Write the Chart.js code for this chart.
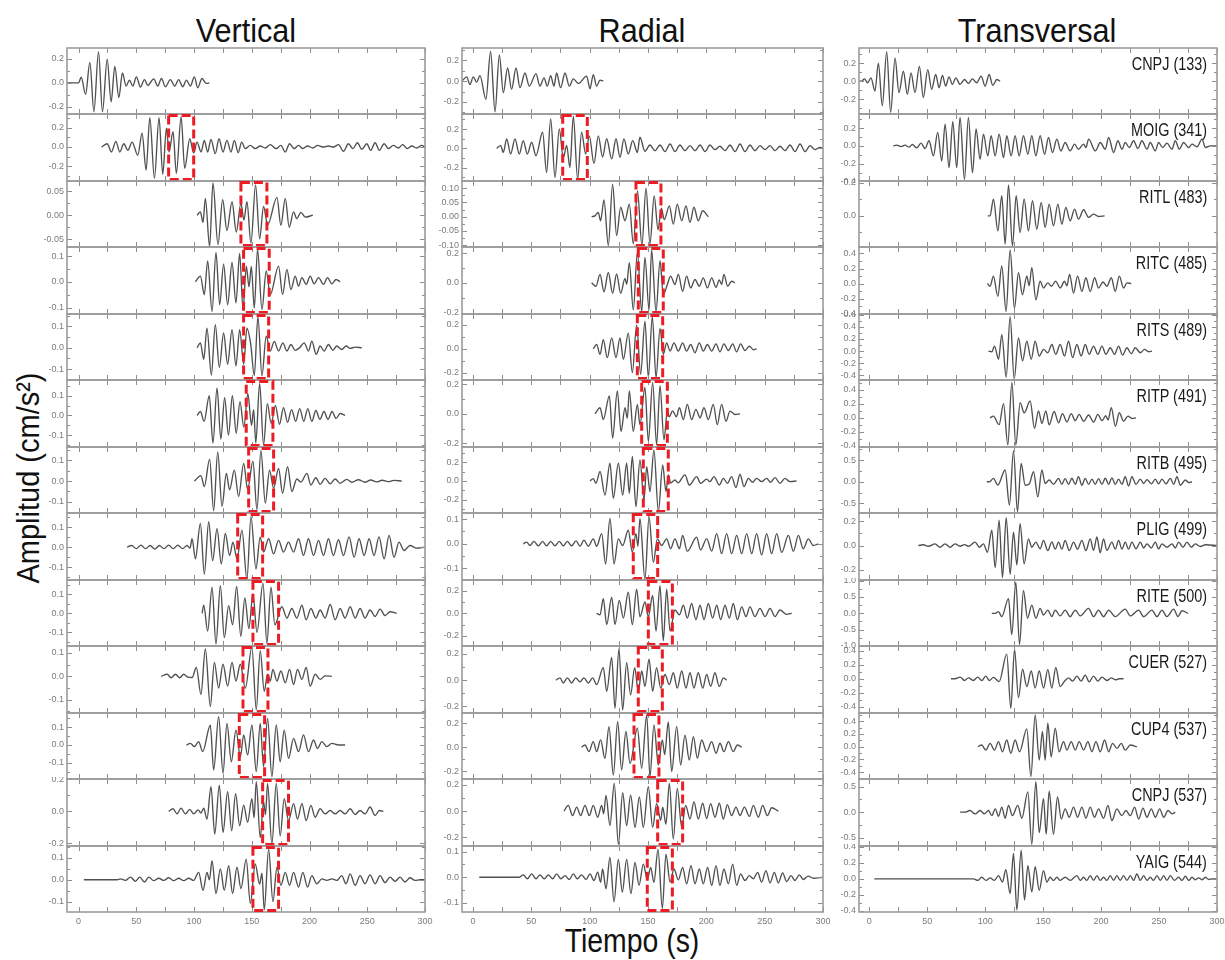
<!DOCTYPE html>
<html><head><meta charset="utf-8">
<script src="https://cdn.jsdelivr.net/npm/chart.js@4.4.1/dist/chart.umd.min.js"></script>
<style>
html,body{margin:0;padding:0;background:#fff;}
body{width:1225px;height:960px;position:relative;overflow:hidden;font-family:"Liberation Sans",Arial,sans-serif;}
.ttl{position:absolute;font-size:34px;line-height:34px;color:#111;white-space:nowrap;transform:translateX(-50%) scaleX(0.9);}
.st{position:absolute;font-size:18px;line-height:18px;color:#1a1a1a;white-space:nowrap;transform:scaleX(0.8);transform-origin:100% 50%;text-align:right;}
.xl{position:absolute;font-size:33px;line-height:33px;color:#111;white-space:nowrap;transform:translateX(-50%) scaleX(0.86);}
.yl{position:absolute;font-size:29px;line-height:29px;color:#111;white-space:nowrap;transform:translate(-50%,-50%) rotate(-90deg) scaleY(1.08);}
canvas{position:absolute;}
</style></head>
<body>
<div class="ttl" style="left:246px;top:13px;">Vertical</div>
<div class="ttl" style="left:642px;top:13px;">Radial</div>
<div class="ttl" style="left:1037px;top:13px;">Transversal</div>
<div class="xl" style="left:632px;top:924px;">Tiempo (s)</div>
<div class="yl" style="left:29px;top:478px;">Amplitud (cm/s²)</div>
<script>
// ---------- categories / labels ----------
const stations = ["CNPJ (133)","MOIG (341)","RITL (483)","RITC (485)","RITS (489)","RITP (491)","RITB (495)","PLIG (499)","RITE (500)","CUER (527)","CUP4 (537)","CNPJ (537)","YAIG (544)"];
const componentTitles = ["Vertical","Radial","Transversal"];
const timeTicks = [0,50,100,150,200,250,300];
const timeMinorTicks = [0,25,50,75,100,125,150,175,200,225,250,275,300];

// ---------- y ranges and tick steps per row ----------
const vertYMin = [-0.26,-0.35,-0.066,-0.125,-0.151,-0.16,-0.155,-0.165,-0.171,-0.157,-0.189,-0.216,-0.147];
const vertYMax = [0.29,0.34,0.071,0.135,0.158,0.18,0.165,0.171,0.174,0.13,0.178,0.203,0.154];
const vertYStep = [0.2,0.2,0.05,0.1,0.1,0.1,0.1,0.1,0.1,0.1,0.1,0.2,0.1];
const radYMin = [-0.317,-0.34,-0.106,-0.21,-0.26,-0.224,-0.34,-0.147,-0.289,-0.25,-0.262,-0.266,-0.136];
const radYMax = [0.32,0.357,0.125,0.242,0.29,0.228,0.36,0.125,0.294,0.261,0.283,0.245,0.122];
const radYStep = [0.2,0.2,0.05,0.2,0.2,0.2,0.2,0.1,0.2,0.2,0.2,0.2,0.1];
const transYMin = [-0.364,-0.395,-0.19,-0.405,-0.476,-0.416,-0.72,-0.283,-1.0,-0.485,-0.508,-0.658,-0.414];
const transYMax = [0.367,0.358,0.212,0.486,0.61,0.54,0.8,0.267,1.02,0.465,0.53,0.646,0.41];
const transYStep = [0.2,0.2,0.2,0.2,0.2,0.2,0.5,0.2,0.5,0.2,0.2,0.5,0.2];

// ---------- red window marks (start / end time, s) ----------
const vertBoxStart = [null,78.0,140.6,142.9,142.9,145.2,147.3,137.8,151.0,142.4,139.2,159.4,151.0];
const vertBoxEnd   = [null,99.7,163.1,165.1,164.6,168.3,168.9,159.4,173.2,164.0,161.1,181.8,173.2];
const radBoxStart  = [null,76.9,139.7,141.7,140.9,144.6,146.0,137.4,150.3,141.7,138.0,158.3,149.4];
const radBoxEnd    = [null,98.0,161.1,163.1,162.6,166.6,167.4,158.3,170.9,162.3,159.4,179.7,170.9];

// ---------- waveforms: [t, amplitude, t, amplitude, ...] (read extrema) ----------
const vert1 = [-10,0, 0,0, 2.3,0.047, 6.1,-0.096, 9.8,0.17, 13.3,-0.241, 17.3,0.26, 20.7,-0.241, 24.8,0.197, 28.2,-0.159, 31.4,0.137, 34.9,-0.123, 38.0,0.082, 41.2,-0.027, 44.1,0.022, 47.0,-0.027, 50.1,0.049, 53.6,-0.036, 57.1,0.027, 59.9,-0.022, 65.1,0.033, 68.6,-0.027, 71.8,0.036, 75.2,-0.033, 79.5,0.027, 83.3,-0.027, 86.7,0.027, 90.2,-0.033, 93.4,0.022, 96.8,-0.027, 100.3,0.049, 103.2,-0.041, 106.9,0.036, 110.4,-0.005, 113.3,0];
const vert2 = [19.9,0, 24.8,0.034, 28.5,-0.051, 32.3,0.058, 35.7,-0.051, 39.2,0.034, 42.7,-0.034, 46.4,0.051, 51.3,-0.085, 55.0,0.142, 58.5,-0.237, 61.7,0.302, 65.7,-0.322, 69.7,0.302, 72.9,-0.281, 76.1,0.193, 78.4,-0.051, 81.8,0.159, 84.7,-0.271, 88.8,0.312, 91.9,-0.22, 96.3,0.085, 99.7,-0.061, 102.6,0.051, 106.1,-0.051, 108.9,0.068, 111.8,-0.051, 114.7,0.078, 118.4,-0.068, 121.6,0.085, 125.1,-0.051, 128.5,0.068, 132.0,-0.051, 134.9,0.068, 138.3,-0.058, 141.2,0.051, 144.4,-0.017, 148.7,0.017, 153.0,-0.017, 157.3,0.01, 161.7,-0.01, 166.0,0.024, 171.2,-0.017, 175.2,0.017, 179.0,-0.051, 182.7,0.034, 186.7,-0.017, 190.5,0.017, 194.2,-0.017, 198.3,0.01, 202.9,-0.01, 206.9,0.017, 211.5,0, 216.4,0.01, 220.7,0, 225.1,0.024, 229.4,-0.044, 233.7,0.034, 237.5,-0.017, 241.5,0.044, 245.2,-0.024, 249.6,0.034, 253.0,-0.034, 256.8,0.044, 260.5,-0.034, 264.6,0.034, 268.3,-0.017, 272.6,0.017, 276.9,-0.01, 280.7,0.024, 284.7,-0.017, 288.5,0.01, 292.8,-0.01, 297.1,0.017, 300,0];
const vert3 = [102.6,0, 105.5,0.007, 107.8,-0.015, 109.8,0.035, 113.5,-0.065, 116.4,0.067, 120.7,-0.061, 124.8,0.032, 128.5,-0.032, 132.9,0.028, 136.6,-0.035, 140.6,0.025, 143.2,-0.01, 145.8,0.028, 149.3,-0.058, 153.3,0.063, 156.8,-0.049, 160.2,0.018, 163.7,-0.02, 171.8,0.037, 175.2,-0.021, 179.0,0.035, 182.4,-0.025, 186.2,0.007, 189.0,-0.007, 192.5,0.006, 196.3,-0.004, 202.9,0];
const vert4 = [101.2,0, 105.5,0.022, 108.9,-0.05, 111.8,0.081, 115.6,-0.115, 119.0,0.114, 122.2,-0.089, 125.6,0.068, 129.1,-0.089, 132.9,0.075, 136.3,-0.082, 139.5,0.11, 142.4,-0.108, 145.3,0.061, 147.6,-0.02, 149.6,0.06, 152.2,-0.102, 155.0,0.127, 158.8,-0.108, 162.5,0.042, 166.0,-0.05, 173.2,0.061, 176.7,-0.05, 180.4,0.048, 183.9,-0.03, 187.6,0.022, 190.5,-0.017, 193.4,0.016, 197.1,-0.01, 200.6,0.022, 204.0,-0.008, 207.8,0.016, 212.1,-0.01, 215.6,0.016, 219.3,-0.008, 223.0,0.009, 226.5,0];
const vert5 = [102.6,0, 105.5,0.023, 108.4,-0.054, 111.2,0.092, 115.0,-0.128, 118.4,0.108, 121.9,-0.092, 125.6,0.069, 129.1,-0.077, 132.9,0.085, 136.3,-0.085, 139.5,0.085, 143.0,-0.077, 145.8,0.092, 149.0,0.02, 152.2,-0.13, 155.3,0.146, 158.8,-0.131, 162.5,0.054, 166.0,-0.015, 169.5,0.03, 173.2,-0.015, 176.9,0.023, 180.4,-0.015, 183.9,0.015, 187.6,-0.012, 191.4,0.0, 195.4,0.023, 199.1,-0.015, 202.0,0.031, 205.8,-0.031, 209.2,0.008, 212.7,-0.015, 216.4,0.015, 220.2,-0.012, 223.6,0.008, 227.9,-0.008, 231.7,0.008, 235.2,-0.003, 239.5,0.003, 245.2,0];
const vert6 = [102.6,0, 105.5,0.02, 108.7,-0.03, 113.2,0.10, 116.4,-0.14, 119.9,0.14, 123.2,-0.12, 126.5,0.09, 129.8,-0.10, 133.2,0.10, 136.5,-0.09, 139.8,0.07, 143.1,-0.06, 146.6,0.11, 149.8,-0.05, 151.6,0.03, 153.5,-0.14, 156.8,0.162, 160.2,-0.149, 163.5,0.06, 166.8,-0.04, 170.5,0.05, 174.0,-0.045, 177.5,0.04, 181.0,-0.035, 184.5,0.03, 188.0,-0.03, 191.5,0.035, 195.0,-0.03, 198.5,0.035, 202.0,-0.03, 205.5,0.025, 209.0,-0.02, 212.5,0.02, 216.0,-0.02, 219.5,0.02, 223.0,-0.015, 226.5,0.01, 230.8,0];
const vert7 = [100.3,0, 106.0,0.026, 108.9,-0.027, 113.5,0.106, 117.0,-0.144, 120.5,0.141, 124.2,-0.123, 128.0,0.037, 130.8,-0.043, 134.9,0.053, 138.6,-0.075, 143.0,0.085, 146.4,-0.04, 151.0,0.096, 154.5,-0.139, 157.9,0.149, 161.7,-0.107, 165.4,0.053, 168.9,-0.035, 173.2,0.061, 176.7,-0.059, 181.0,0.069, 184.7,-0.051, 189.0,0.01, 192.5,-0.005, 197.7,0.037, 201.2,-0.019, 205.5,0.016, 209.2,-0.016, 213.5,0.013, 217.9,-0.014, 222.2,0.01, 226.5,-0.011, 232.3,0.008, 236.6,-0.006, 242.4,0.006, 248.1,-0.006, 253.0,0.005, 258.0,-0.004, 263.0,0.004, 268.0,-0.003, 273.0,0.003, 279.8,0];
const vert8 = [42.1,0, 46,0.008, 50,-0.008, 54,0.01, 58,-0.008, 62,0.008, 66,-0.01, 70,0.008, 74,-0.008, 78,0.01, 82,-0.008, 86,0.01, 90,-0.008, 94,0.008, 96.5,-0.005, 98.3,0.042, 101.2,-0.059, 105.5,0.119, 108.9,-0.136, 112.7,0.127, 116.1,-0.068, 119.9,0.093, 123.6,-0.085, 127.1,0.068, 130.8,-0.042, 133.7,0.025, 137.2,-0.059, 141.5,0.085, 145.8,-0.161, 149.3,0.153, 153.6,-0.11, 157.3,0.05, 160.2,-0.025, 164.6,0.042, 168.9,-0.034, 173.2,0.034, 177.5,-0.025, 181.8,0.025, 186.2,-0.025, 190.5,0.042, 194.8,-0.042, 199.1,0.042, 203.5,-0.042, 207.8,0.034, 212.1,-0.042, 216.4,0.042, 220.7,-0.042, 225.1,0.037, 229.4,-0.042, 234.3,0.051, 238.6,-0.051, 242.9,0.042, 247.3,-0.042, 251.6,0.042, 255.9,-0.042, 260.2,0.051, 264.6,-0.059, 268.9,0.059, 273.2,-0.051, 277.5,0.025, 281.8,-0.017, 287.0,0.008, 292.8,-0.005, 300,0];
const vert9 = [107.0,0, 108.4,0.042, 111.8,-0.093, 115.6,0.136, 119.0,-0.161, 122.8,0.144, 126.2,-0.127, 130.0,0.04, 133.4,-0.06, 136.9,0.14, 140.5,-0.12, 144.0,0.08, 147.5,-0.08, 151.0,0.10, 154.5,-0.10, 159.7,0.158, 163.1,-0.158, 166.6,0.136, 170.0,-0.06, 176.1,0.034, 180.4,-0.025, 184.7,0.025, 189.0,-0.025, 193.4,0.042, 197.1,-0.034, 201.2,0.025, 205.5,-0.025, 209.2,0.017, 213.5,-0.025, 217.9,0.046, 222.2,-0.034, 226.5,0.025, 230.8,-0.025, 235.2,0.034, 239.5,-0.025, 243.8,0.025, 248.1,-0.025, 252.4,0.017, 256.8,-0.017, 261.1,0.022, 265.4,-0.012, 269.7,0.008, 275.5,0];
const vert10 = [71.5,0, 76.7,0.009, 80.1,-0.006, 83.9,0.009, 87.6,-0.006, 91.1,0.009, 94.5,-0.003, 98.3,-0.005, 102.0,0.038, 106.0,-0.078, 109.8,0.117, 114.1,-0.129, 117.6,0.06, 121.3,-0.05, 125.1,0.052, 129.1,-0.042, 132.9,0.06, 136.3,-0.02, 140.1,0.052, 144.4,-0.05, 150.1,0.125, 153.9,-0.143, 157.3,0.11, 160.8,-0.064, 163.7,0.009, 166.0,-0.02, 168.3,0.03, 171.8,-0.02, 175.2,0.023, 179.0,-0.028, 182.7,0.03, 186.2,-0.035, 189.6,0.03, 193.4,-0.013, 197.1,0.038, 200.6,-0.042, 204.9,0.009, 209.2,-0.013, 213.5,0.002, 219.3,0];
const vert11 = [93.4,0, 96.8,0.009, 100.3,-0.009, 104.0,0.019, 107.5,-0.037, 114.1,0.11, 117.0,-0.139, 121.3,0.157, 125.1,-0.157, 128.5,0.12, 132.3,-0.093, 136.3,0.083, 140.1,-0.065, 143.0,0.056, 146.4,-0.056, 150.1,0.111, 153.9,-0.148, 157.3,0.12, 160.2,-0.12, 163.7,0.148, 167.4,-0.176, 171.2,0.111, 174.6,-0.093, 178.1,0.083, 181.8,-0.074, 186.2,0.037, 190.5,-0.037, 194.8,0.056, 199.1,-0.037, 203.5,0.028, 206.9,-0.019, 210.7,0.019, 215.0,-0.009, 219.3,0.009, 225.1,0, 230.8,0];
const vert12 = [78.1,0, 81.8,0.017, 85.3,-0.015, 88.8,0.021, 92.5,-0.015, 96.3,0.013, 99.7,-0.015, 103.5,0.01, 106.0,-0.01, 108.4,0.021, 111.2,-0.047, 114.7,0.155, 117.9,-0.142, 121.9,0.165, 125.1,-0.131, 129.1,0.123, 132.6,-0.121, 136.0,0.112, 139.5,-0.089, 143.0,0.04, 146.4,-0.068, 150.1,0.08, 152.0,-0.04, 153.9,0.186, 157.3,-0.163, 160.2,0.06, 161.9,-0.02, 163.7,0.176, 167.4,-0.205, 171.2,0.176, 174.6,-0.153, 178.1,0.08, 181.8,-0.057, 186.2,0.049, 189.6,-0.047, 193.4,0.049, 197.1,-0.057, 201.2,0.038, 204.9,-0.036, 209.2,0.017, 213.5,-0.015, 217.9,0.006, 222.2,-0.015, 226.5,0.006, 230.8,-0.015, 235.2,0.017, 239.5,-0.019, 243.8,0.006, 248.1,-0.015, 252.4,0.028, 256.8,-0.025, 260.5,0.006, 264.0,0];
const vert13 = [4.6,0, 33.4,0, 36.3,0.004, 40.6,-0.003, 45.0,0.012, 49.3,-0.007, 53.0,0.012, 57.1,-0.01, 60.8,0.012, 65.1,-0.004, 69.5,0.007, 73.8,-0.003, 78.1,0.009, 82.4,-0.004, 86.7,0.007, 91.1,-0.004, 95.4,0.007, 99.7,-0.003, 104.0,0.034, 107.8,-0.048, 111.2,0.034, 113.3,0.0, 115.6,0.087, 119.0,-0.063, 122.8,0.05, 126.2,-0.048, 130.0,0.064, 133.4,-0.063, 137.2,0.057, 140.6,-0.04, 145.2,0.094, 148.7,-0.107, 153.0,0.072, 156.8,-0.02, 158.8,0.03, 160.8,-0.137, 164.6,0.139, 168.3,-0.1, 171.8,0.057, 175.2,-0.025, 179.0,0.034, 182.7,-0.025, 186.2,0.034, 190.5,-0.033, 194.2,0.034, 198.3,-0.033, 202.0,0.019, 206.3,-0.018, 210.7,0.004, 215.0,-0.003, 219.3,0.004, 223.6,-0.003, 227.9,0.019, 231.6,-0.018, 235.2,0.027, 239.5,-0.025, 243.8,0.019, 248.1,-0.018, 252.4,0.022, 256.8,-0.018, 261.1,0.019, 265.4,-0.013, 269.7,0.012, 274.1,-0.007, 278.4,0.012, 282.7,-0.01, 287.0,0.009, 291.4,-0.003, 295.7,0, 300,0];

const rad1 = [-9.4,0, -5.4,0.041, -2.6,-0.032, 0.3,0.041, 3.1,-0.01, 6.0,0.054, 11.1,-0.175, 15.1,0.286, 18.9,-0.295, 22.6,0.254, 26.0,-0.111, 29.7,0.127, 33.1,-0.079, 36.9,0.127, 40.3,-0.063, 44.6,0.079, 48.3,-0.048, 54.0,0.073, 57.4,-0.048, 60.9,0.032, 63.7,-0.048, 66.6,0.054, 69.4,-0.048, 71.7,0.079, 75.1,-0.063, 78.9,0.079, 82.6,-0.048, 86.0,0.022, 90.3,-0.022, 97.4,0.048, 100.3,-0.073, 103.1,0.063, 106.0,-0.048, 108.9,0.01, 111.7,0];
const rad2 = [20.3,0, 23.7,0.028, 26.0,-0.042, 28.9,0.098, 32.3,-0.059, 36.0,0.098, 39.7,-0.059, 43.1,0.08, 46.6,-0.059, 50.3,0.063, 54.0,-0.077, 59.7,0.167, 63.1,-0.251, 66.6,0.307, 70.3,-0.303, 74.0,0.202, 77.4,-0.1, 80.3,0.03, 83.1,-0.2, 86.0,0.334, 89.7,-0.32, 93.1,0.167, 96.6,-0.06, 99.7,0.13, 103.7,-0.16, 107.4,0.13, 111.1,-0.09, 114.6,0.1, 118.9,-0.11, 122.6,0.1, 126.0,-0.094, 129.4,0.098, 133.1,-0.059, 136.9,0.08, 140.9,-0.042, 143.1,0.115, 147.4,-0.03, 151.7,0.035, 156.0,-0.024, 160.3,0.035, 164.6,-0.035, 168.9,0.045, 173.1,-0.035, 177.4,0.035, 181.7,-0.024, 186.0,0.028, 190.3,-0.024, 194.6,0.035, 198.9,-0.035, 203.1,0.035, 207.4,-0.014, 211.7,0.021, 216.0,-0.024, 220.3,0.035, 224.6,-0.035, 228.9,0.045, 233.1,-0.035, 237.4,0.035, 241.7,-0.024, 246.0,0.028, 250.3,-0.014, 254.6,0.028, 258.9,-0.024, 263.1,0.021, 267.4,-0.024, 271.7,0.035, 276.0,-0.035, 280.3,0.045, 284.6,-0.035, 288.9,0.028, 293.1,-0.014, 297.4,0.01, 300,0];
const rad3 = [101.7,0, 104.6,0.003, 107.4,0.015, 109.4,-0.014, 112.3,0.059, 116.0,-0.101, 119.7,0.114, 123.1,-0.066, 126.6,0.033, 130.3,-0.014, 134.0,0.044, 137.4,-0.095, 141.0,0.09, 144.8,-0.10, 148.3,0.10, 151.7,-0.095, 155.3,0.073, 158.6,-0.045, 161.4,0.03, 164.0,-0.01, 168.3,0.038, 171.7,-0.026, 175.1,0.044, 178.9,-0.014, 182.6,0.038, 186.0,-0.02, 189.4,0.033, 193.1,-0.014, 196.9,0.021, 201.7,0];
const rad4 = [101.7,0, 105.4,-0.023, 108.9,0.057, 112.3,-0.06, 116.0,0.07, 119.7,-0.07, 123.1,0.06, 126.6,-0.07, 130.3,0.03, 131.8,-0.01, 134.0,0.137, 137.4,-0.183, 140.9,0.206, 144.6,-0.195, 147.4,0.172, 150.9,-0.183, 153.1,0.222, 156.9,-0.195, 160.3,0.149, 163.1,-0.08, 166.6,-0.011, 169.4,0.046, 173.1,-0.011, 176.0,0.057, 179.7,-0.057, 183.1,0.046, 186.6,-0.034, 190.3,0.023, 194.0,-0.023, 197.4,0.034, 200.9,-0.034, 204.6,0.034, 208.3,-0.03, 211.1,0.02, 213.1,-0.01, 215.1,0.057, 218.3,-0.023, 221.7,0.011, 224.6,0];
const rad5 = [103.1,0, 106.0,0.036, 108.9,-0.047, 111.7,0.077, 115.1,-0.074, 118.9,0.091, 122.6,-0.074, 126.0,0.091, 128.9,-0.088, 133.1,0.13, 136.6,-0.198, 140.3,0.2, 143.7,-0.212, 147.4,0.231, 150.3,-0.239, 153.7,0.27, 156.9,-0.24, 160.3,0.17, 163.1,-0.047, 166.0,0.05, 168.9,-0.019, 172.3,0.05, 176.0,-0.019, 179.7,0.05, 183.1,-0.019, 186.6,0.036, 190.3,-0.033, 194.0,0.05, 197.4,-0.019, 200.9,0.036, 204.6,-0.019, 208.3,0.041, 211.7,-0.025, 215.1,0.041, 218.9,-0.014, 222.6,0.041, 226.0,-0.025, 229.4,0.041, 233.1,-0.014, 236.9,0.022, 240.3,-0.008, 243.1,0];
const rad6 = [104.6,0, 108.9,0.041, 111.7,-0.039, 116.9,0.121, 119.7,-0.164, 123.7,0.155, 126.9,-0.119, 130.3,0.041, 132.3,-0.03, 134.0,0.155, 137.4,-0.119, 140.9,0.064, 143.1,-0.073, 147.4,0.178, 150.3,-0.187, 154.0,0.212, 157.4,-0.21, 160.3,0.19, 163.7,-0.176, 166.6,0.018, 168.3,-0.02, 171.1,0.02, 174.3,-0.02, 176.9,0.041, 180.3,-0.039, 183.7,0.064, 187.4,-0.039, 191.1,0.03, 194.6,-0.027, 198.0,0.041, 201.7,-0.039, 206.0,0.064, 209.4,-0.073, 213.1,0.064, 216.9,-0.05, 220.3,0.018, 224.6,-0.005, 228.9,0];
const rad7 = [100.3,0, 103.1,0.025, 105.4,-0.025, 108.9,0.1, 113.1,-0.149, 117.4,0.188, 120.3,-0.184, 124.6,0.188, 128.3,-0.149, 131.7,0.188, 134.0,-0.131, 136.6,0.259, 139.7,-0.273, 143.1,0.223, 146.6,-0.202, 148.9,0.152, 151.7,-0.113, 155.1,0.33, 158.9,-0.326, 162.6,0.17, 165.4,-0.113, 167.4,0.064, 169.4,-0.02, 173.1,0.01, 175.7,-0.02, 181.7,0.064, 185.4,-0.043, 191.7,0.046, 195.1,-0.025, 200.3,0.02, 203.1,-0.007, 206.6,0.046, 211.1,-0.043, 214.6,0.028, 218.0,-0.025, 221.7,0.046, 225.4,-0.071, 228.9,0.071, 232.3,-0.06, 236.0,0.028, 239.7,-0.014, 243.1,0.028, 247.4,-0.007, 251.7,0.028, 255.1,-0.014, 258.9,0.035, 263.1,-0.025, 267.4,0.028, 271.7,-0.007, 277.4,0];
const rad8 = [43.1,0, 46.0,0.007, 48.9,-0.007, 52.3,0.01, 56.0,-0.008, 59.7,0.01, 63.1,-0.008, 66.6,0.01, 70.3,-0.008, 74.0,0.01, 77.4,-0.008, 80.9,0.01, 84.6,-0.008, 88.3,0.012, 91.7,-0.01, 95.1,0.015, 98.9,-0.01, 103.1,0.02, 106.0,-0.01, 110.3,0.041, 113.7,-0.082, 117.4,0.103, 120.9,-0.082, 124.6,0.02, 128.3,-0.007, 133.1,0.055, 136.6,-0.034, 139.7,0.041, 141.4,-0.01, 143.1,0.103, 147.4,-0.144, 150.9,0.11, 154.6,-0.075, 158.0,0.02, 161.7,-0.007, 166.0,0.02, 169.4,-0.02, 173.1,0.02, 176.9,-0.02, 179.7,0.034, 183.7,-0.03, 191.7,0.027, 195.1,-0.025, 200.3,0.021, 204.6,-0.03, 208.9,0.041, 213.1,-0.04, 217.4,0.041, 221.7,-0.04, 226.0,0.034, 230.3,-0.04, 234.6,0.041, 238.9,-0.04, 243.1,0.041, 247.4,-0.045, 251.7,0.041, 256.0,-0.04, 260.3,0.041, 264.6,-0.035, 270.3,0.034, 274.6,-0.03, 278.9,0.034, 283.1,-0.02, 287.4,0.02, 291.7,-0.007, 296.0,0];
const rad9 = [106.0,0, 108.9,-0.014, 111.7,0.129, 114.6,-0.1, 118.9,0.143, 121.7,-0.1, 125.4,0.114, 128.9,-0.043, 133.1,0.186, 136.6,-0.1, 140.3,0.214, 143.1,-0.03, 147.4,0.1, 150.3,-0.03, 154.0,0.157, 156.9,-0.157, 160.3,0.243, 163.1,-0.243, 166.0,0.214, 168.9,-0.157, 173.1,0.029, 176.9,-0.014, 180.3,0.071, 183.7,-0.043, 187.4,0.086, 191.1,-0.057, 194.6,0.071, 198.0,-0.057, 201.7,0.086, 205.4,-0.043, 208.9,0.071, 212.3,-0.057, 216.0,0.071, 219.7,-0.043, 223.1,0.086, 226.6,-0.057, 230.3,0.057, 234.0,-0.029, 237.4,0.057, 241.7,-0.029, 246.0,0.043, 250.3,-0.029, 254.6,0.043, 258.9,-0.029, 263.1,0.029, 268.9,-0.009, 273.1,0];
const rad10 = [71.1,0, 74.6,0.018, 77.4,-0.021, 80.9,0.018, 84.6,-0.021, 88.0,0.018, 91.7,-0.013, 95.1,0.018, 98.9,-0.021, 102.6,0.018, 106.0,-0.034, 111.7,0.096, 114.6,-0.085, 118.9,0.173, 121.7,-0.214, 125.1,0.238, 128.3,-0.227, 131.7,0.134, 135.1,-0.111, 138.6,0.096, 141.7,-0.085, 144.6,0.07, 147.4,-0.047, 150.9,0.16, 154.0,-0.085, 157.4,0.096, 160.9,-0.06, 164.6,0.044, 168.3,-0.034, 171.7,0.057, 175.1,-0.06, 178.9,0.07, 182.6,-0.06, 186.0,0.057, 189.4,-0.06, 193.1,0.057, 196.9,-0.06, 200.3,0.044, 203.7,-0.047, 207.4,0.057, 211.1,-0.047, 214.6,0.018, 217.4,0];
const rad11 = [93.1,0, 96.0,0.019, 99.4,-0.036, 103.1,0.047, 106.0,-0.036, 109.4,0.061, 113.1,-0.091, 116.6,0.17, 120.3,-0.23, 124.0,0.213, 127.4,-0.188, 131.1,0.13, 134.6,-0.133, 140.9,0.157, 144.6,-0.174, 148.9,0.268, 151.7,-0.243, 155.1,0.185, 158.9,-0.146, 162.3,0.06, 164.3,-0.06, 167.4,0.21, 170.3,-0.2, 174.6,0.17, 178.0,-0.146, 181.7,0.1, 185.4,-0.105, 188.9,0.088, 192.3,-0.091, 196.0,0.06, 200.3,-0.036, 204.6,0.047, 208.3,-0.05, 211.7,0.033, 215.1,-0.036, 218.9,0.047, 223.1,-0.036, 226.6,0.019, 230.3,0];
const rad12 = [78.0,0, 81.7,0.044, 85.4,-0.034, 88.9,0.031, 92.3,-0.034, 96.0,0.044, 99.7,-0.034, 103.1,0.044, 106.9,-0.047, 110.3,0.044, 112.0,-0.02, 114.0,0.12, 117.4,-0.111, 121.1,0.212, 124.6,-0.253, 128.3,0.14, 131.7,-0.111, 135.1,0.122, 138.9,-0.124, 142.6,0.109, 146.0,-0.124, 150.3,0.186, 154.0,-0.124, 157.4,0.057, 160.9,-0.07, 162.6,0.03, 165.4,-0.1, 168.3,0.212, 171.7,-0.214, 175.1,0.173, 178.9,-0.124, 182.3,0.044, 186.0,-0.06, 189.4,0.07, 193.1,-0.06, 196.9,0.06, 200.3,-0.057, 203.7,0.057, 207.4,-0.047, 211.1,0.06, 214.6,-0.06, 218.0,0.05, 221.7,-0.034, 225.4,0.031, 228.9,-0.034, 232.6,0.031, 236.9,-0.04, 240.3,0.044, 244.6,-0.047, 248.3,0.044, 252.3,-0.034, 256.0,0.026, 261.7,0];
const rad13 = [5.4,0, 39.7,0, 43.1,0.009, 46.6,-0.006, 50.3,0.013, 54.0,-0.006, 57.4,0.009, 61.1,-0.006, 64.6,0.009, 68.3,-0.006, 71.7,0.013, 75.4,-0.006, 78.9,0.006, 82.6,-0.009, 86.0,0.013, 89.4,-0.006, 93.1,0.009, 96.9,-0.009, 100.3,0.013, 103.7,-0.013, 106.9,0.02, 109.4,-0.02, 111.1,0.032, 114.0,-0.045, 117.4,0.077, 120.9,-0.096, 124.6,0.07, 128.0,-0.058, 131.7,0.07, 135.4,-0.064, 138.9,0.058, 142.3,-0.032, 146.0,0.051, 149.4,-0.01, 152.3,0.038, 155.1,-0.02, 158.6,0.109, 162.3,-0.122, 165.4,0.09, 168.9,-0.019, 172.3,0.032, 176.0,-0.01, 179.7,0.038, 183.1,-0.026, 186.9,0.045, 190.3,-0.026, 194.0,0.032, 197.4,-0.026, 201.1,0.038, 204.6,-0.032, 208.3,0.045, 211.7,-0.032, 215.1,0.032, 218.9,-0.026, 222.6,0.051, 226.0,-0.032, 229.4,0.013, 233.1,-0.013, 236.9,0.006, 240.3,-0.006, 244.0,0.019, 247.4,-0.019, 251.1,0.026, 254.6,-0.022, 258.3,0.019, 261.7,-0.022, 265.4,0.017, 268.9,-0.017, 272.6,0.006, 276.0,-0.013, 279.7,0.009, 283.1,-0.009, 287.4,0.004, 291.7,-0.004, 300,0];

const trans1 = [-8.9,0, -6.6,0, -4.3,0.025, -1.4,-0.018, 1.4,0.036, 4.9,-0.109, 7.8,0.2, 11.2,-0.273, 15.0,0.327, 18.4,-0.345, 22.2,0.255, 25.6,-0.127, 29.4,0.109, 32.8,-0.145, 36.0,0.091, 39.4,-0.127, 43.2,0.164, 46.6,-0.182, 50.4,0.127, 53.8,-0.091, 57.3,0.073, 60.2,-0.073, 63.1,0.062, 65.9,-0.055, 68.8,0.047, 71.7,-0.036, 74.6,0.036, 78.3,-0.036, 82.1,0.018, 85.5,-0.025, 88.9,0.025, 92.7,-0.018, 96.5,0.055, 99.9,-0.055, 103.4,0.073, 106.5,-0.047, 110.0,0.018, 112.9,0];
const trans2 = [20.7,0, 23.6,0.008, 27.4,-0.008, 30.8,0.008, 34.3,-0.015, 37.1,0.015, 40.9,-0.023, 44.6,0.03, 48.1,-0.03, 51.5,0.057, 55.3,-0.113, 59.0,0.151, 62.5,-0.17, 65.4,0.245, 68.8,-0.245, 72.0,0.272, 75.4,-0.245, 78.3,0.32, 82.1,-0.377, 85.5,0.32, 89.0,-0.302, 92.1,0.189, 95.6,-0.151, 98.5,0.132, 102.2,-0.113, 105.1,0.113, 108.6,-0.113, 112.0,0.132, 115.8,-0.132, 118.6,0.113, 122.4,-0.113, 125.8,0.113, 129.3,-0.113, 133.0,0.113, 136.8,-0.094, 140.2,0.113, 143.7,-0.113, 147.4,0.113, 151.2,-0.094, 154.6,0.094, 158.1,-0.075, 161.8,0.075, 165.3,-0.057, 169.0,0.038, 173.3,-0.057, 177.1,0.019, 180.5,-0.038, 184.9,0.019, 186.9,-0.02, 189.2,0.075, 195.0,-0.057, 199.3,0.038, 203.6,-0.038, 206.5,0.094, 210.8,-0.075, 214.5,0.057, 218.0,-0.038, 220.8,0.038, 224.3,-0.019, 228.0,0.057, 231.8,-0.03, 235.2,0.057, 239.6,-0.038, 242.4,0.038, 246.8,-0.057, 249.6,0.038, 253.1,-0.019, 256.8,0.03, 261.2,-0.038, 264.0,0.057, 267.5,-0.038, 271.2,0.038, 275.6,-0.019, 278.4,0.019, 282.8,-0.01, 287.1,0.075, 290.0,-0.019, 294.3,0, 300,0];
const trans3 = [102.2,0, 104.2,0, 107.1,0.102, 110.9,-0.092, 114.3,0.122, 117.2,-0.173, 120.1,0.188, 123.5,-0.184, 126.7,0.122, 130.1,-0.102, 133.6,0.102, 137.3,-0.092, 140.8,0.092, 144.5,-0.082, 148.3,0.082, 151.7,-0.071, 155.2,0.071, 158.9,-0.061, 162.7,0.071, 166.1,-0.051, 169.6,0.051, 173.3,-0.031, 177.1,0.041, 180.5,-0.02, 184.9,0.037, 189.2,-0.01, 193.5,0.01, 197.8,-0.004, 203.0,0];
const trans4 = [101.9,0, 104.2,-0.036, 107.1,0.099, 110.9,-0.171, 114.3,0.234, 118.0,-0.374, 121.5,0.446, 125.2,-0.33, 128.7,0.144, 132.1,-0.149, 135.9,0.099, 137.9,-0.03, 140.2,0.212, 143.7,-0.216, 147.4,0.03, 150.3,-0.059, 154.0,0.009, 157.2,-0.036, 160.7,0.032, 164.7,-0.059, 168.4,0.03, 170.5,-0.03, 172.8,0.122, 176.2,-0.126, 179.7,0.099, 183.4,-0.104, 186.9,0.077, 190.6,-0.104, 194.4,0.077, 197.8,-0.059, 201.6,0.02, 205.0,-0.036, 208.8,0.077, 212.2,-0.104, 215.7,0.099, 219.4,-0.059, 222.3,0.009, 226.0,0];
const trans5 = [102.8,0, 105.7,-0.011, 108.0,0.081, 111.5,-0.135, 114.3,0.27, 118.1,-0.432, 121.5,0.568, 125.0,-0.459, 128.7,0.216, 132.2,-0.162, 135.9,0.162, 139.7,-0.135, 143.1,0.162, 146.6,-0.081, 150.3,0.027, 154.0,-0.027, 157.5,0.108, 160.8,-0.054, 164.7,0.108, 168.4,-0.081, 171.9,0.162, 175.4,-0.108, 179.1,0.108, 182.8,-0.081, 186.3,0.108, 189.7,-0.054, 193.5,0.081, 197.2,-0.054, 200.7,0.081, 204.2,-0.054, 207.9,0.054, 211.6,-0.054, 215.1,0.081, 218.5,-0.065, 222.3,0.054, 226.0,-0.043, 229.5,0.054, 233.8,-0.027, 237.5,0.027, 241.0,-0.011, 243.9,0];
const trans6 = [104.2,0, 107.1,0.024, 112.0,-0.097, 115.8,0.203, 119.5,-0.386, 123.0,0.507, 126.4,-0.386, 130.2,0.217, 133.6,0.07, 138.8,0.24, 142.5,-0.15, 146.0,0.1, 148.9,-0.08, 152.3,0.1, 155.2,-0.1, 159.5,0.09, 163.3,-0.07, 166.7,0.06, 170.5,-0.06, 174.2,0.06, 177.7,-0.04, 181.1,0.05, 184.9,-0.05, 189.2,0.04, 193.5,-0.06, 197.2,0.05, 200.7,-0.04, 204.0,0.03, 206.0,-0.03, 208.8,0.145, 212.3,-0.121, 215.7,0.072, 219.4,-0.048, 223.2,0.024, 226.6,-0.01, 230.1,0];
const trans7 = [101.4,0, 103.7,0, 107.1,0.077, 110.9,-0.077, 117.2,0.27, 120.9,-0.54, 124.4,0.71, 127.8,-0.69, 131.0,0.42, 134.5,-0.08, 138.0,-0.05, 141.7,0.23, 145.4,-0.35, 148.9,0.27, 151.7,-0.04, 155.2,0.04, 158.9,-0.06, 163.3,0.077, 166.1,-0.06, 169.0,0.07, 171.9,-0.06, 174.8,0.08, 177.7,-0.06, 180.5,0.115, 183.4,-0.08, 186.3,0.077, 189.2,-0.06, 192.1,0.06, 194.9,-0.06, 197.8,0.07, 200.7,-0.06, 203.6,0.08, 206.5,-0.06, 209.3,0.09, 212.2,-0.06, 215.1,0.06, 218.0,-0.06, 220.8,0.115, 223.7,-0.1, 226.6,0.115, 230.1,-0.06, 233.8,0.06, 236.7,-0.04, 239.6,0.05, 243.3,-0.05, 246.8,0.06, 249.6,-0.05, 252.5,0.06, 256.0,-0.05, 259.7,0.077, 262.6,-0.06, 265.5,0.115, 268.4,-0.08, 272.7,0.04, 275.6,-0.02, 278.4,0];
const trans8 = [42.3,0, 46.6,0.006, 51.0,-0.006, 56.7,0.014, 61.0,-0.014, 65.4,0.014, 69.7,-0.014, 74.0,0.014, 78.3,-0.006, 82.1,0.008, 85.5,-0.006, 91.3,0.028, 95.0,-0.014, 98.5,0.014, 101.9,-0.055, 105.7,0.125, 108.6,-0.18, 112.0,0.208, 114.9,-0.264, 118.1,0.228, 121.5,-0.236, 124.4,0.11, 127.3,-0.16, 130.1,0.18, 133.6,-0.15, 137.3,0.055, 140.2,-0.014, 143.7,0.028, 147.4,-0.028, 150.3,0.042, 154.0,-0.042, 157.5,0.03, 160.4,-0.03, 163.3,0.028, 166.1,-0.03, 169.0,0.042, 172.5,-0.042, 176.2,0.028, 179.7,-0.03, 183.4,0.042, 186.9,-0.042, 190.6,0.055, 193.5,-0.04, 196.4,0.07, 199.2,-0.06, 202.1,0.055, 205.0,-0.04, 209.3,0.028, 212.2,-0.03, 215.1,0.042, 218.0,-0.03, 220.8,0.028, 223.7,-0.03, 226.6,0.028, 230.1,-0.028, 233.8,0.028, 236.7,-0.02, 239.6,0.014, 243.3,-0.02, 246.8,0.028, 249.6,-0.028, 252.5,0.014, 256.8,-0.014, 261.2,0.014, 264.0,-0.02, 266.9,0.028, 270.7,-0.014, 274.1,0.028, 277.9,-0.014, 281.3,0.014, 285.6,-0.008, 290.0,0.006, 300,0];
const trans9 = [105.7,0, 108.6,0, 111.4,0.05, 114.3,-0.1, 120.1,0.45, 122.9,-0.65, 126.4,0.95, 129.6,-0.95, 133.0,0.7, 136.5,-0.15, 140.2,0.25, 143.7,-0.15, 147.4,0.15, 150.3,-0.05, 154.0,0.1, 157.5,-0.1, 160.4,0.1, 164.7,-0.08, 169.0,0.1, 173.3,-0.1, 177.7,0.1, 182.0,-0.08, 189.2,0.15, 193.5,-0.1, 197.8,0.1, 202.1,-0.1, 206.5,0.1, 212.2,-0.1, 220.8,0.13, 225.2,-0.08, 232.4,0.1, 236.7,-0.1, 243.9,0.1, 248.2,-0.1, 252.5,0.1, 256.8,-0.1, 262.6,0.13, 266.3,-0.1, 269.8,0.08, 275.0,0];
const trans10 = [70.5,0, 74.0,0, 78.3,0.024, 82.1,-0.024, 85.5,0.014, 89.8,-0.024, 93.6,0.024, 97.0,-0.024, 100.5,0.038, 103.7,-0.024, 107.1,0.02, 112.0,-0.04, 118.6,0.35, 122.1,-0.42, 125.3,0.42, 128.7,-0.27, 132.2,0.135, 135.9,-0.11, 139.7,0.11, 143.1,-0.13, 146.6,0.11, 150.3,-0.13, 154.0,0.13, 157.5,-0.13, 160.9,0.16, 164.7,-0.11, 168.4,-0.034, 171.9,0.014, 175.4,-0.034, 179.1,0.038, 182.8,-0.034, 186.3,0.053, 189.7,-0.043, 193.5,0.038, 197.2,-0.034, 200.7,0.024, 205.0,-0.024, 208.8,0.014, 212.2,-0.014, 215.7,0, 219.4,0];
const trans11 = [93.6,0, 97.0,0.026, 100.5,-0.053, 104.2,0.053, 108.0,-0.053, 111.4,0.079, 114.9,-0.079, 118.6,0.105, 122.1,-0.105, 125.8,0.105, 129.6,-0.079, 135.9,0.28, 139.4,-0.47, 143.1,0.5, 146.6,-0.21, 149.4,0.24, 151.7,-0.21, 154.0,0.37, 156.9,-0.16, 160.4,0.29, 163.8,-0.08, 167.6,0.079, 170.5,-0.053, 174.2,0.079, 177.7,-0.053, 181.1,0.079, 184.9,-0.053, 188.6,0.079, 192.1,-0.079, 195.5,0.079, 199.3,-0.079, 203.0,0.105, 206.5,-0.079, 209.9,0.053, 213.7,-0.026, 217.4,0.053, 220.8,-0.053, 225.2,0.026, 230.9,0];
const trans12 = [78.3,0, 82.6,0, 86.9,0.033, 91.2,-0.033, 95.6,0.033, 99.3,-0.033, 102.8,0.033, 105.7,-0.066, 108.6,0.066, 111.5,-0.079, 114.3,0.099, 117.2,-0.118, 120.1,0.132, 123.5,-0.066, 128.1,0.132, 131.6,-0.118, 136.8,0.395, 140.2,-0.625, 143.7,0.592, 146.6,-0.395, 150.3,0.263, 152.6,-0.428, 155.2,0.408, 158.9,-0.428, 162.4,0.296, 165.6,-0.132, 169.0,0.066, 172.5,-0.099, 176.2,0.099, 179.7,-0.099, 183.4,0.099, 186.9,-0.118, 190.6,0.099, 194.3,-0.099, 197.8,0.066, 202.1,-0.118, 205.9,0.132, 209.3,-0.164, 213.6,0.066, 217.9,-0.066, 221.4,0.033, 225.2,-0.066, 228.9,0.099, 232.4,-0.132, 236.1,0.079, 239.6,-0.099, 243.3,0.066, 246.8,-0.099, 250.5,0.066, 254.0,-0.099, 257.7,0.033, 261.2,-0.033, 264.0,0];
const trans13 = [4.3,0, 88.4,0, 89.8,0, 93.6,-0.02, 97.0,0.02, 100.8,-0.02, 104.2,0.012, 107.9,-0.02, 111.4,0.041, 114.9,-0.041, 117.8,0.114, 121.5,-0.184, 124.4,0.318, 127.3,-0.388, 131.0,0.359, 133.9,-0.265, 136.8,0.163, 140.2,-0.163, 143.1,0.151, 146.6,-0.143, 150.3,0.102, 153.2,-0.041, 156.0,0.02, 158.9,-0.02, 161.8,0.02, 164.7,-0.02, 169.0,0.02, 173.3,-0.02, 179.1,0.041, 182.0,-0.02, 184.9,0.02, 187.7,-0.02, 190.6,0.041, 193.5,-0.02, 196.4,0.041, 199.2,-0.02, 202.1,0.02, 205.0,-0.02, 207.9,0.041, 210.8,-0.02, 213.6,0.041, 216.5,-0.02, 219.4,0.041, 222.3,-0.02, 225.2,0.041, 228.0,-0.02, 230.9,0.061, 233.8,-0.02, 236.7,0.041, 239.6,-0.02, 242.4,0.02, 245.3,-0.02, 248.2,0.041, 251.1,-0.02, 254.0,0.041, 256.8,-0.02, 259.7,0.041, 263.2,-0.02, 266.9,0.02, 269.8,-0.02, 272.7,0.033, 275.6,-0.02, 278.4,0.02, 281.3,-0.012, 284.2,0.012, 287.1,-0.012, 290.0,0.02, 292.9,-0.008, 295.8,0, 300,0];

const vertSeries = [vert1,vert2,vert3,vert4,vert5,vert6,vert7,vert8,vert9,vert10,vert11,vert12,vert13];
const radSeries = [rad1,rad2,rad3,rad4,rad5,rad6,rad7,rad8,rad9,rad10,rad11,rad12,rad13];
const transSeries = [trans1,trans2,trans3,trans4,trans5,trans6,trans7,trans8,trans9,trans10,trans11,trans12,trans13];

// ---------- layout ----------
const ROW0 = 48, ROWH = 66.46, NROWS = 13;
const AXW = 34, XAXH = 18, RPAD = 12;
const columns = [
  {series:vertSeries, ymin:vertYMin, ymax:vertYMax, ystep:vertYStep, bs:vertBoxStart, be:vertBoxEnd, left:67, width:358, xmin:-10},
  {series:radSeries, ymin:radYMin, ymax:radYMax, ystep:radYStep, bs:radBoxStart, be:radBoxEnd, left:462, width:361, xmin:-9.4},
  {series:transSeries, ymin:transYMin, ymax:transYMax, ystep:transYStep, bs:null, be:null, left:859, width:358, xmin:-8.9}
];
const TICK_FONT = {family:'"Liberation Sans Narrow","Liberation Sans",Arial,sans-serif', size:9};

function pts(a){ const r=[]; for(let i=0;i<a.length;i+=2) r.push({x:a[i], y:a[i+1]}); return r; }
function fmt(v, step){ const d = step < 0.1 ? 2 : 1; const z = Math.abs(v) < 1e-9 ? 0 : v; return z.toFixed(d); }
function majors(min, max, step){
  const pad = 0.02*(max-min), out=[];
  for(let k=Math.ceil((min-pad)/step - 1e-9); k*step <= max+pad+1e-9; k++) out.push(+(k*step).toFixed(4));
  return out;
}

const panelPlugin = {
  id:'panel',
  afterDraw(chart, args, o){
    const ctx = chart.ctx, a = chart.chartArea, x = chart.scales.x, y = chart.scales.y;
    ctx.save();
    ctx.strokeStyle = '#8e8e8e'; ctx.lineWidth = 1; ctx.setLineDash([]);
    ctx.beginPath();
    for (const t of timeMinorTicks){
      const px = Math.round(x.getPixelForValue(t)) + 0.5;
      ctx.moveTo(px, a.top); ctx.lineTo(px, a.top+5);
      ctx.moveTo(px, a.bottom); ctx.lineTo(px, a.bottom-5);
    }
    const minor = o.step/2;
    for (let k=Math.ceil(y.min/minor - 1e-9); k*minor <= y.max + 1e-9; k++){
      const v = k*minor, maj = (k % 2 === 0);
      const len = maj ? 5 : 3;
      const py = Math.round(y.getPixelForValue(v)) + 0.5;
      ctx.moveTo(a.left, py); ctx.lineTo(a.left+len, py);
      ctx.moveTo(a.right, py); ctx.lineTo(a.right-len, py);
    }
    ctx.stroke();
    ctx.strokeStyle = '#9c9c9c'; ctx.lineWidth = 1.6;
    ctx.strokeRect(a.left, a.top, a.right-a.left, a.bottom-a.top);
    if (o.box && o.box[0] != null){
      const x1 = x.getPixelForValue(o.box[0]), x2 = x.getPixelForValue(o.box[1]);
      ctx.strokeStyle = '#ec1c24'; ctx.lineWidth = 3; ctx.setLineDash([9,4]);
      ctx.strokeRect(x1, a.top+1.5, x2-x1, a.bottom-a.top-3);
    }
    ctx.restore();
  }
};

columns.forEach((col, ci) => {
  for (let r=0; r<NROWS; r++){
    const top = Math.round(ROW0 + r*ROWH), bottom = Math.round(ROW0 + (r+1)*ROWH);
    const isLast = (r === NROWS-1);
    const cw = AXW + col.width + RPAD;
    const ch = (bottom-top) + 4 + (isLast ? XAXH : 0);
    const cv = document.createElement('canvas');
    cv.width = cw; cv.height = ch;
    cv.style.left = (col.left - AXW) + 'px';
    cv.style.top = (top - 2) + 'px';
    cv.style.width = cw + 'px'; cv.style.height = ch + 'px';
    document.body.appendChild(cv);
    const ymin = col.ymin[r], ymax = col.ymax[r], step = col.ystep[r];
    const mj = majors(ymin, ymax, step);
    new Chart(cv, {
      type:'line',
      data:{datasets:[{data:pts(col.series[r]), borderColor:'#505050', borderWidth:1.35, pointRadius:0, cubicInterpolationMode:'monotone', fill:false}]},
      options:{
        responsive:false, animation:false, devicePixelRatio:1, events:[],
        layout:{padding:{top:2, bottom:2, left:0, right:RPAD}},
        plugins:{legend:{display:false}, tooltip:{enabled:false},
          panel:{step:step, box: col.bs ? [col.bs[r], col.be[r]] : null}},
        scales:{
          x:{type:'linear', min:col.xmin, max:300, display:isLast,
             afterFit:s=>{s.height = isLast ? XAXH : 0; s.paddingLeft = 0; s.paddingRight = 0;},
             afterBuildTicks:s=>{s.ticks = timeTicks.map(v=>({value:v}));},
             grid:{display:false, drawTicks:false}, border:{display:false},
             ticks:{color:'#7c7c7c', font:TICK_FONT, padding:4, maxRotation:0, autoSkip:false, callback:v=>String(v)}},
          y:{type:'linear', min:ymin, max:ymax,
             afterFit:s=>{s.width = AXW; s.paddingTop = 0; s.paddingBottom = 0;},
             afterBuildTicks:s=>{s.ticks = mj.map(v=>({value:v}));},
             grid:{display:false, drawTicks:false}, border:{display:false},
             ticks:{color:'#7c7c7c', font:TICK_FONT, padding:3, autoSkip:false, callback:v=>fmt(v, step)}}
        }
      },
      plugins:[panelPlugin]
    });
  }
});

// station labels (transversal column)
stations.forEach((s, r) => {
  const d = document.createElement('div');
  d.className = 'st';
  d.textContent = s;
  d.style.right = (1225 - 1207) + 'px';
  d.style.top = Math.round(ROW0 + r*ROWH + 7) + 'px';
  document.body.appendChild(d);
});
</script>
</body></html>
